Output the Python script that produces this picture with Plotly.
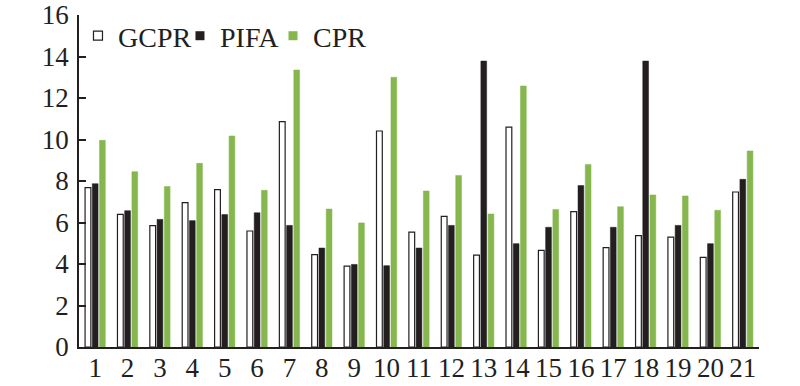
import plotly.graph_objects as go

categories = [str(i) for i in range(1, 22)]
gcpr = [7.68, 6.39, 5.85, 6.96, 7.58, 5.59, 10.86, 4.45, 3.90, 10.41, 5.54,
        6.30, 4.43, 10.60, 4.66, 6.52, 4.79, 5.37, 5.30, 4.32, 7.47]
pifa = [7.87, 6.57, 6.15, 6.09, 6.38, 6.47, 5.86, 4.77, 3.98, 3.92, 4.77,
        5.86, 13.78, 4.98, 5.77, 7.78, 5.77, 13.78, 5.86, 4.98, 8.08]
cpr = [9.96, 8.45, 7.73, 8.85, 10.17, 7.55, 13.35, 6.65, 5.98, 13.00, 7.52,
       8.27, 6.41, 12.58, 6.63, 8.80, 6.76, 7.33, 7.28, 6.59, 9.45]
y_ticks = list(range(0, 17, 2))

FONT = "Liberation Serif"
INK = "#231f20"
GREEN = "#86b74e"

series = [
    ("GCPR", gcpr, "white", INK, 1.2, "legend", -0.0015),
    ("PIFA", pifa, INK, INK, 0.5, "legend2", 0.1485),
    ("CPR", cpr, GREEN, GREEN, 0.5, "legend3", 0.2853),
]

fig = go.Figure()
legend_layout = {}
for name, vals, fill, edge, lw, leg, lx in series:
    fig.add_trace(go.Bar(name=name, x=categories, y=vals, showlegend=False,
                         marker=dict(color=fill, line=dict(color=edge, width=lw))))
    # legend entry with a small square swatch
    fig.add_trace(go.Scatter(name=name, x=[None], y=[None], mode="markers",
                             legend=leg, showlegend=True, hoverinfo="skip",
                             marker=dict(symbol="square", size=9, color=fill,
                                         line=dict(color=edge, width=1.2 if fill == "white" else 0))))
    legend_layout[leg] = dict(orientation="h", x=lx, xanchor="left", y=1.012, yanchor="top",
                              font=dict(family=FONT, size=28, color=INK),
                              bgcolor="rgba(0,0,0,0)", itemclick=False)

fig.update_layout(
    width=800, height=386,
    margin=dict(l=79, r=41, t=15, b=39, autoexpand=False),
    paper_bgcolor="white", plot_bgcolor="white",
    barmode="group", bargap=0.33, bargroupgap=0.2,
    font=dict(family=FONT, size=28, color=INK),
    xaxis=dict(type="category", showline=True, linecolor=INK, linewidth=1.5,
               ticks="", showgrid=False, zeroline=False, automargin=False,
               ticklabelstandoff=-4,
               tickfont=dict(family=FONT, size=27, color=INK)),
    yaxis=dict(range=[0, 16], tickvals=y_ticks, showline=True, linecolor=INK,
               linewidth=1.5, ticks="inside", ticklen=7, tickcolor=INK, tickwidth=1.5,
               showgrid=False, zeroline=False, automargin=False,
               ticklabelstandoff=3,
               tickfont=dict(family=FONT, size=27, color=INK)),
    **legend_layout,
)

fig.write_html("out.html", config={"displayModeBar": False},
               post_script="document.body.style.margin='0';"
                           "document.body.style.overflow='hidden';")
